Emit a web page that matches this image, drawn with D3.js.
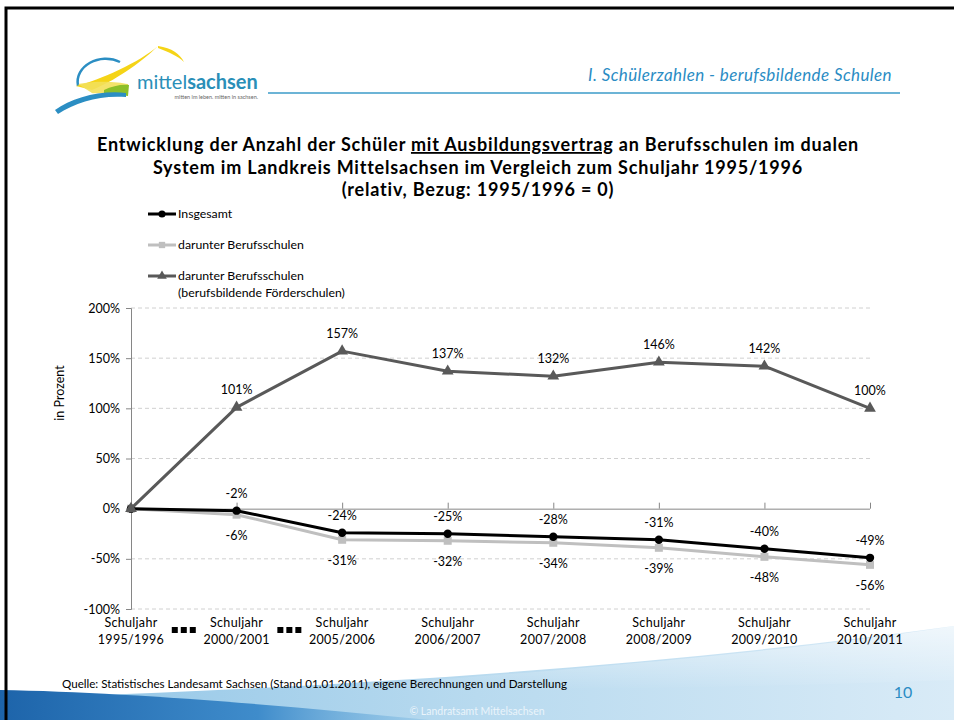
<!DOCTYPE html>
<html><head><meta charset="utf-8">
<script src="https://cdn.jsdelivr.net/npm/d3@7"></script>
<style>body{margin:0;background:#fff;}svg{display:block;font-family:Lato,"Open Sans",sans-serif;}</style>
</head><body>
<svg id="c" width="954" height="720"></svg>
<script>
const categories = ["1995/1996","2000/2001","2005/2006","2006/2007","2007/2008","2008/2009","2009/2010","2010/2011"];
const insgesamt = [0,-2,-24,-25,-28,-31,-40,-49];
const berufsschulen = [0,-6,-31,-32,-34,-39,-48,-56];
const foerderschulen = [0,101,157,137,132,146,142,100];
const yTicks = [-100,-50,0,50,100,150,200];
const seriesNames = ["Insgesamt","darunter Berufsschulen","darunter Berufsschulen|(berufsbildende Förderschulen)"];
const titleLines = ["Entwicklung der Anzahl der Schüler |mit Ausbildungsvertrag| an Berufsschulen im dualen","System im Landkreis Mittelsachsen im Vergleich zum Schuljahr 1995/1996","(relativ, Bezug: 1995/1996 = 0)"];

const svg = d3.select("#c");
const defs = svg.append("defs");
const g1 = defs.append("linearGradient").attr("id","gLight").attr("x1","0").attr("x2","1").attr("y1","0").attr("y2","0");
g1.append("stop").attr("offset","0").attr("stop-color","#8fc4e6");
g1.append("stop").attr("offset","0.5").attr("stop-color","#b8daef");
g1.append("stop").attr("offset","1").attr("stop-color","#d9ebf7");
const g3 = defs.append("linearGradient").attr("id","gFade").attr("x1","0").attr("x2","0").attr("y1","0").attr("y2","1");
g3.append("stop").attr("offset","0").attr("stop-color","#ffffff").attr("stop-opacity","0.6");
g3.append("stop").attr("offset","1").attr("stop-color","#ffffff").attr("stop-opacity","0");
const g2 = defs.append("linearGradient").attr("id","gDark").attr("x1","0").attr("x2","1").attr("y1","0").attr("y2","0");
g2.append("stop").attr("offset","0").attr("stop-color","#1d64aa");
g2.append("stop").attr("offset","0.6").attr("stop-color","#3f8ccb");
g2.append("stop").attr("offset","1").attr("stop-color","#8cc3e6").attr("stop-opacity","0.5");

// bottom decoration
svg.append("path").attr("d","M0,720 L0,698 C300,690 650,668 954,626 L954,720 Z").attr("fill","url(#gLight)");
svg.append("path").attr("d","M300,690 C600,668 800,650 954,626 L954,680 C800,686 600,690 300,690 Z").attr("fill","url(#gFade)");
svg.append("path").attr("d","M0,720 L0,690 C120,692 270,704 430,720 Z").attr("fill","url(#gDark)");

// frame
svg.append("path").attr("d","M6,720 L6,8 L954,8").attr("fill","none").attr("stroke","#000").attr("stroke-width",3);

// logo
const logo = svg.append("g");
logo.append("path").attr("d","M78,86 C74,66 100,52 120,62").attr("fill","none").attr("stroke","#2b8ec3").attr("stroke-width",2.5);
logo.append("path").attr("d","M76,86 C100,80 140,62 158,46 C140,64 112,82 92,90 Z").attr("fill","#f5d417");
logo.append("path").attr("d","M158,46 C172,48 180,54 184,62 C178,56 168,52 158,48 Z").attr("fill","#f5d417");
logo.append("path").attr("d","M78,84 C100,80 118,82 128,84 L127,95 C110,92 96,94 92,93 Z").attr("fill","#f3e05a").attr("opacity",0.9);
logo.append("path").attr("d","M104,90 C112,86 122,84 129,85 L128,96 C118,94 110,95 104,94 Z").attr("fill","#8cbf2a");
logo.append("path").attr("d","M55,110 C72,98 100,90 126,93 L126,97 C100,95 76,102 58,114 Z").attr("fill","#2b8ec3");
const lt = logo.append("text").attr("x",137).attr("y",89).attr("font-size",20).attr("fill","#2a8fb8");
lt.append("tspan").text("mittel");
lt.append("tspan").attr("font-weight","bold").text("sachsen");
logo.append("text").attr("x",258).attr("y",99).attr("text-anchor","end").attr("font-size",5.5).attr("fill","#666").text("mitten im leben. mitten in sachsen.");

// header
svg.append("line").attr("x1",268).attr("x2",900).attr("y1",93).attr("y2",93).attr("stroke","#6cb4d6").attr("stroke-width",2);
svg.append("text").attr("x",892).attr("y",81).attr("text-anchor","end").attr("font-style","italic").attr("font-size",17).attr("letter-spacing",0.4).attr("fill","#2a8cc4").text("I. Schülerzahlen - berufsbildende Schulen");

// title
titleLines.forEach((l,i)=>{
  const t = svg.append("text").attr("x",478).attr("y",151+i*22.5).attr("text-anchor","middle").attr("font-weight","bold").attr("font-size",18).attr("letter-spacing",0.8).attr("fill","#000");
  l.split("|").forEach((p,j)=>{ const ts=t.append("tspan").text(p); if(j===1) ts.attr("text-decoration","underline"); });
});

// scales
const x = d3.scalePoint().domain(categories).range([131,870]);
const y = d3.scaleLinear().domain([-100,200]).range([609,308]);

// gridlines
svg.append("g").selectAll("line").data(yTicks.filter(d=>d!==0)).join("line")
  .attr("x1",131).attr("x2",870).attr("y1",d=>y(d)).attr("y2",d=>y(d))
  .attr("stroke","#d0d0d0").attr("stroke-dasharray","4,3").attr("stroke-width",1);

// y axis
const ya = svg.append("g").attr("transform","translate(131,0)")
  .call(d3.axisLeft(y).tickValues(yTicks).tickSize(5).tickFormat(d=>d+"%"));
ya.selectAll("path,line").attr("stroke","#868686");
ya.selectAll("text").attr("font-size",12.5).attr("fill","#000").attr("font-family","Lato,sans-serif").attr("dx",-3);
ya.select(".domain").attr("d","M-5,308.5H0.5V609.5H-5");

// x axis at zero
const xa = svg.append("g").attr("transform",`translate(0,${y(0)})`)
  .call(d3.axisTop(x).tickSize(6).tickFormat(""));
xa.selectAll("path,line").attr("stroke","#868686");
xa.select(".domain").attr("d",`M131,0.5H870`);

// x labels
const xl = svg.append("g").selectAll("text").data(categories).join("text")
  .attr("x",d=>x(d)).attr("y",627).attr("text-anchor","middle").attr("font-size",12.5).attr("letter-spacing",0.3).attr("fill","#000");
xl.append("tspan").attr("x",d=>x(d)).text("Schuljahr");
xl.append("tspan").attr("x",d=>x(d)).attr("dy",17).text(d=>d);
// axis break markers
[0,1].forEach(i=>{
  const cx = (x(categories[i])+x(categories[i+1]))/2;
  [-9,0,9].forEach(o=>svg.append("rect").attr("x",cx+o-3).attr("y",627).attr("width",6).attr("height",6).attr("fill","#000"));
});

// y axis title
svg.append("text").attr("transform","translate(64,393) rotate(-90)").attr("text-anchor","middle").attr("font-size",12.5).text("in Prozent");

// lines
const line = d3.line().x((d,i)=>x(categories[i])).y(d=>y(d));
const series = [
  {vals:berufsschulen,color:"#bfbfbf",marker:"square",lab:"below"},
  {vals:insgesamt,color:"#000",marker:"circle",lab:"above"},
  {vals:foerderschulen,color:"#595959",marker:"triangle",lab:"above"}
];
const sym = {circle:d3.symbol().type(d3.symbolCircle).size(55),square:d3.symbol().type(d3.symbolSquare).size(64),triangle:d3.symbol().type(d3.symbolTriangle).size(60)};
series.forEach(s=>{
  svg.append("path").datum(s.vals).attr("d",line).attr("fill","none").attr("stroke",s.color).attr("stroke-width",3).attr("stroke-linejoin","round");
  svg.append("g").selectAll("path").data(s.vals).join("path")
    .attr("transform",(d,i)=>`translate(${x(categories[i])},${y(d)})`).attr("d",sym[s.marker]()).attr("fill",s.color);
  svg.append("g").selectAll("text").data(s.vals.slice(1)).join("text")
    .attr("x",(d,i)=>x(categories[i+1])).attr("y",d=>s.lab==="above"?y(d)-13:y(d)+25)
    .attr("text-anchor","middle").attr("font-size",12.5).attr("fill","#000").text(d=>d+"%");
});

// legend
const legend = svg.append("g");
[{c:"#000",m:"circle"},{c:"#bfbfbf",m:"square"},{c:"#595959",m:"triangle"}].forEach((s,i)=>{
  const ly = 214 + i*31;
  legend.append("line").attr("x1",148).attr("x2",176).attr("y1",ly).attr("y2",ly).attr("stroke",s.c).attr("stroke-width",3);
  legend.append("path").attr("transform",`translate(162,${ly})`).attr("d",d3.symbol().type(s.m==="circle"?d3.symbolCircle:s.m==="square"?d3.symbolSquare:d3.symbolTriangle).size(40)()).attr("fill",s.c);
  const parts = seriesNames[i].split("|");
  parts.forEach((p,j)=>legend.append("text").attr("x",178).attr("y",ly+4+j*17).attr("font-size",12.3).attr("fill","#000").text(p));
});

// footer
svg.append("text").attr("x",62).attr("y",688).attr("font-size",11.6).attr("fill","#000").text("Quelle: Statistisches Landesamt Sachsen (Stand 01.01.2011), eigene Berechnungen und Darstellung");
svg.append("text").attr("x",903).attr("y",698).attr("text-anchor","middle").attr("font-size",16).attr("fill","#2a8cc4").text("10");
svg.append("text").attr("x",477).attr("y",715).attr("text-anchor","middle").attr("font-size",10.5).attr("fill","#eaf4fb").text("© Landratsamt Mittelsachsen");
</script>
</body></html>
